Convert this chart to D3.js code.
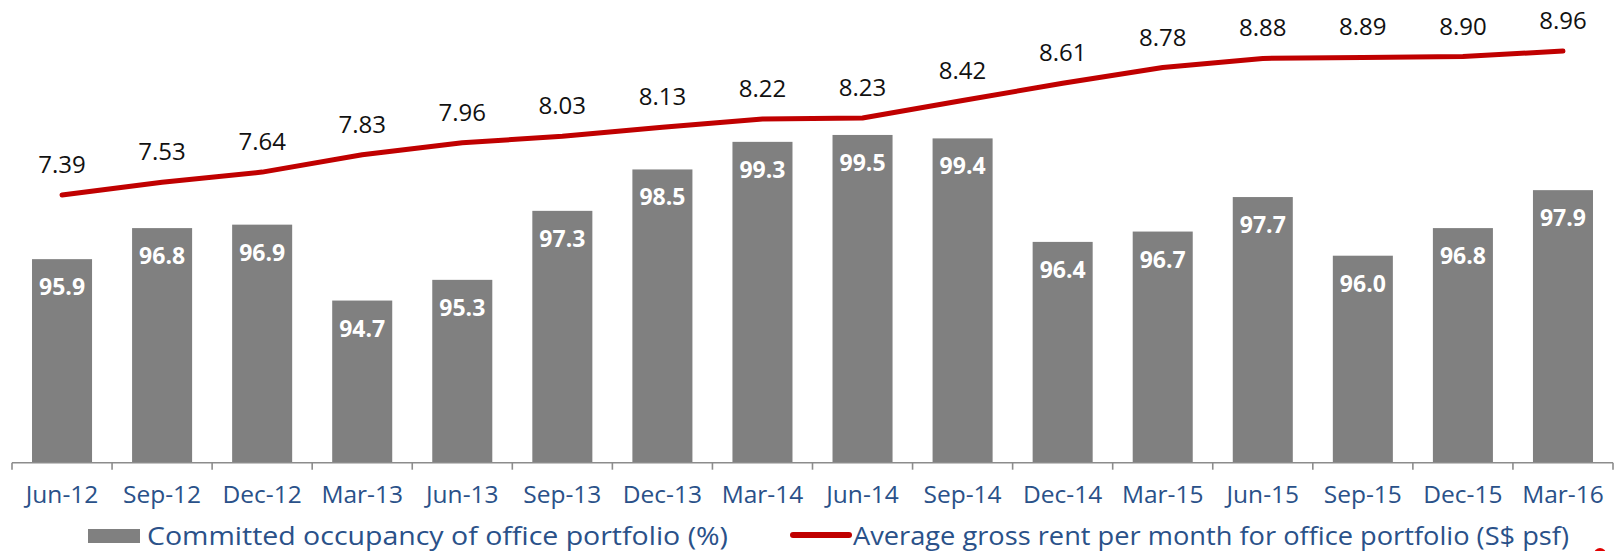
<!DOCTYPE html>
<html><head><meta charset="utf-8">
<script src="https://cdn.jsdelivr.net/npm/d3@7"></script>
<style>body{margin:0;background:#fff}svg{display:block}</style>
</head><body><svg id="c" width="1616" height="551"></svg>
<script>
const categories = ["Jun-12","Sep-12","Dec-12","Mar-13","Jun-13","Sep-13","Dec-13","Mar-14","Jun-14","Sep-14","Dec-14","Mar-15","Jun-15","Sep-15","Dec-15","Mar-16"];
const occupancy = [95.9,96.8,96.9,94.7,95.3,97.3,98.5,99.3,99.5,99.4,96.4,96.7,97.7,96.0,96.8,97.9];
const rent = [7.39,7.53,7.64,7.83,7.96,8.03,8.13,8.22,8.23,8.42,8.61,8.78,8.88,8.89,8.90,8.96];
const legendLabels = ["Committed occupancy of office portfolio (%)","Average gross rent per month for office portfolio (S$ psf)"];

const svg = d3.select("#c");
const font = "'Open Sans', sans-serif";
const axisY = 462.7;
const x = d3.scaleBand().domain(categories).range([12, 1613]).paddingInner(0.4).paddingOuter(0.2);
const yBar = d3.scaleLinear().domain([90, 100]).range([axisY, axisY - 345]);
const yLine = d3.scaleLinear().domain([7, 9]).range([230.8, 47.4]);
const cx = d => x(d) + x.bandwidth()/2;

// bars
svg.append("g").selectAll("rect").data(categories).join("rect")
  .attr("x", d => x(d)).attr("width", x.bandwidth())
  .attr("y", (d,i) => yBar(occupancy[i])).attr("height", (d,i) => axisY - yBar(occupancy[i]))
  .attr("fill", "#808080");
svg.append("g").selectAll("text").data(categories).join("text")
  .attr("x", cx).attr("y", (d,i) => yBar(occupancy[i]) + 36)
  .attr("text-anchor", "middle").attr("fill", "#fff")
  .attr("font-family", font).attr("font-weight", "bold").attr("font-size", 23)
  .text((d,i) => occupancy[i].toFixed(1));

// axis
const axis = d3.axisBottom(x).tickSize(0).tickPadding(0);
const gx = svg.append("g").attr("transform", `translate(0,${axisY})`).call(axis);
gx.select(".domain").attr("stroke", "#8c8c8c").attr("stroke-width", 1.6).attr("d", `M12,0H1613`);
gx.selectAll(".tick text").attr("fill", "#2A5189").attr("font-family", font).attr("font-size", 24.5).attr("y", 40).attr("dy", 0);
const bounds = d3.range(categories.length + 1).map(i => 12 + i * (1601 / categories.length));
gx.selectAll(".bnd").data(bounds).join("line").attr("class","bnd")
  .attr("x1", d => d).attr("x2", d => d).attr("y1", 0).attr("y2", 7)
  .attr("stroke", "#8c8c8c").attr("stroke-width", 1.6);

// line
const line = d3.line().x((d,i) => cx(categories[i])).y(d => yLine(d));
svg.append("path").datum(rent).attr("d", line).attr("fill", "none")
  .attr("stroke", "#C00000").attr("stroke-width", 5).attr("stroke-linecap", "round").attr("stroke-linejoin", "round");
svg.append("g").selectAll("text").data(rent).join("text")
  .attr("x", (d,i) => cx(categories[i])).attr("y", d => yLine(d) - 22)
  .attr("text-anchor", "middle").attr("fill", "#111")
  .attr("font-family", font).attr("font-size", 24)
  .text(d => d.toFixed(2));

// legend
svg.append("rect").attr("x", 88).attr("y", 529).attr("width", 52).attr("height", 14).attr("fill", "#808080");
svg.append("text").attr("x", 147).attr("y", 545).attr("fill", "#2A5189").attr("font-family", font).attr("font-size", 25)
  .attr("textLength", 581).attr("lengthAdjust", "spacingAndGlyphs").text(legendLabels[0]);
svg.append("line").attr("x1", 793).attr("x2", 849).attr("y1", 535).attr("y2", 535).attr("stroke", "#C00000").attr("stroke-width", 6).attr("stroke-linecap","round");
svg.append("text").attr("x", 853).attr("y", 545).attr("fill", "#2A5189").attr("font-family", font).attr("font-size", 25)
  .attr("textLength", 716).attr("lengthAdjust", "spacingAndGlyphs").text(legendLabels[1]);

svg.append("circle").attr("cx", 1600).attr("cy", 554).attr("r", 6).attr("fill", "#E00000");
</script></body></html>
